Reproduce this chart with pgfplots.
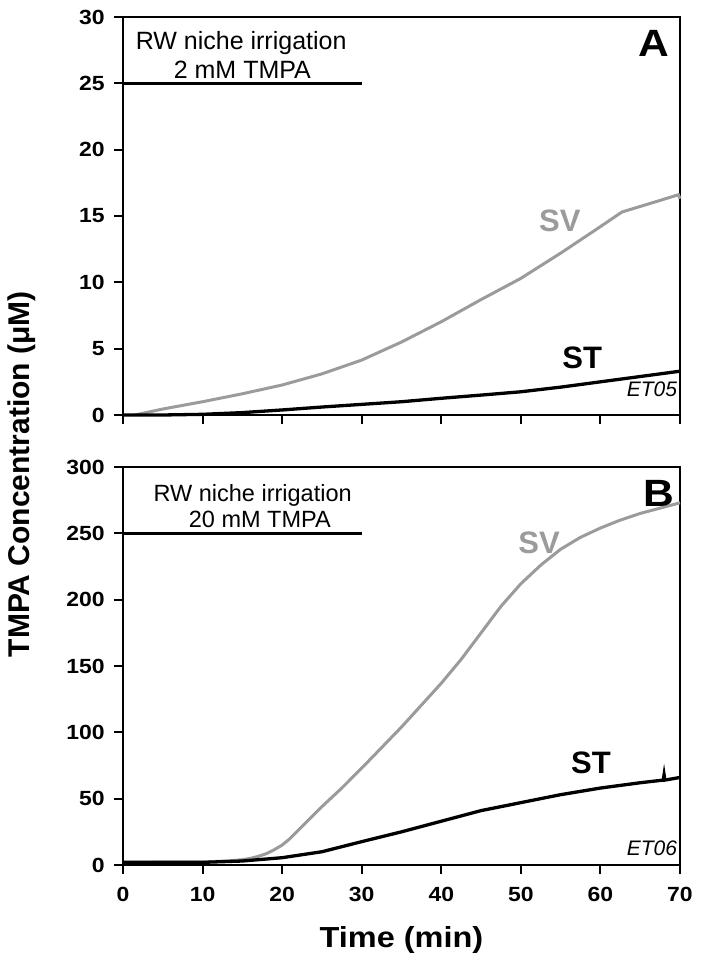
\documentclass[border=0pt]{standalone}
\usepackage{fontspec}
\setmainfont{Liberation Sans}
\newfontfamily\widefont[FakeStretch=1.12]{Liberation Sans}
\usepackage{pgfplots}
\pgfplotsset{compat=1.18}
\definecolor{svgray}{RGB}{155,155,155}
\newcommand\tickfont{\widefont\bfseries\fontsize{20.5bp}{24bp}\selectfont}
\pgfplotsset{panel/.style={
  scale only axis, width=557bp, height=398bp,
  xmin=0, xmax=70, xtick={0,10,...,70},
  line width=2bp,
  axis line style={line width=2bp},
  major tick style={line width=2bp, black},
  major tick length=9bp,
  tick align=outside,
  xtick pos=left, ytick pos=left,
  clip=false,
  /pgf/number format/assume math mode=true,
  yticklabel={\tickfont\pgfmathprintnumber{\tick}},
  yticklabel style={xshift=-5bp},
  xticklabel style={yshift=-9bp},
}}
\begin{document}
\begin{tikzpicture}
\path[use as bounding box] (0,0) rectangle (701bp,967bp);
% Panel A
\begin{axis}[panel, at={(123bp,552bp)}, anchor=south west,
  ymin=0, ymax=30, ytick={0,5,...,30}, xticklabel={\mbox{}}]
\addplot[black, line width=3bp] coordinates {(0,25) (30,25)};
\addplot[svgray, line width=3bp] coordinates {
(1.5,0) (5,0.45) (10,1.0) (15,1.6) (20,2.26) (25,3.1) (30,4.14) (35,5.5)
(40,7.03) (45,8.7) (50,10.3) (55,12.2) (60,14.2) (62.7,15.3)
(66,15.9) (69.8,16.6) (70,16.3)};
\addplot[black, line width=3.3bp] coordinates {
(0,0) (5,0) (10,0.05) (15,0.18) (20,0.38) (25,0.6) (30,0.8) (35,1.0)
(40,1.26) (45,1.5) (50,1.75) (55,2.1) (60,2.5) (65,2.9) (70,3.3)};
\node[anchor=base, font=\fontsize{25bp}{28bp}\selectfont] at (axis cs:14.85,27.56) {RW niche irrigation};
\node[anchor=base, font=\fontsize{25bp}{28bp}\selectfont] at (axis cs:15.0,25.37) {2 mM TMPA};
\node[anchor=base, font=\widefont\bfseries\fontsize{38bp}{40bp}\selectfont] at (axis cs:66.7,27.0) {A};
\node[anchor=base, text=svgray, font=\bfseries\fontsize{31bp}{34bp}\selectfont] at (axis cs:54.9,13.8) {SV};
\node[anchor=base, font=\bfseries\fontsize{31bp}{34bp}\selectfont] at (axis cs:57.7,3.54) {ST};
\node[anchor=base east, inner sep=0pt, font=\itshape\fontsize{21bp}{24bp}\selectfont] at (axis cs:69.75,1.36) {ET05};
\end{axis}
% Panel B
\begin{axis}[panel, at={(123bp,102bp)}, anchor=south west,
  ymin=0, ymax=300, ytick={0,50,...,300},
  xticklabel={\tickfont\pgfmathprintnumber{\tick}},
  xlabel={Time (min)},
  xlabel style={font=\widefont\bfseries\fontsize{29bp}{32bp}\selectfont, at={(axis description cs:0.5,-0.2085)}, anchor=base},
  ylabel={TMPA Concentration (μM)},
  ylabel style={font=\bfseries\fontsize{30bp}{32bp}\selectfont, at={(axis description cs:-0.181,0.982)}, anchor=center, rotate=0}]
\addplot[black, line width=3bp] coordinates {(0,250) (30,250)};
\addplot[svgray, line width=3bp] coordinates {
(0,2) (10,2.2) (13,3) (15,4) (16,5) (17,6.5) (18,8.5) (19,11.5) (20,15)
(21,20) (22,26) (23,32) (24,38) (25,44) (27.5,58) (30,73)
(35,104) (40,137) (42.5,155) (45,175) (47.5,195) (50,212) (52.5,226) (55,238)
(57.5,247) (60,254) (62.5,260) (65,265) (67.5,269) (70,273)};
\addplot[black, line width=3.3bp] coordinates {
(0,2) (10,2) (15,3) (20,5.5) (25,10) (30,17.6) (35,25) (40,33) (45,41)
(50,47) (55,53) (60,58) (65,62) (67.9,64) (68,68) (68.1,64) (70,66)};
\node[anchor=base, font=\fontsize{23.5bp}{26bp}\selectfont] at (axis cs:16.3,274.3) {RW niche irrigation};
\node[anchor=base, font=\fontsize{23.5bp}{26bp}\selectfont] at (axis cs:17.2,254.5) {20 mM TMPA};
\node[anchor=base, font=\widefont\bfseries\fontsize{38bp}{40bp}\selectfont] at (axis cs:67.3,270) {B};
\node[anchor=base, text=svgray, font=\bfseries\fontsize{31bp}{34bp}\selectfont] at (axis cs:52.3,235.1) {SV};
\node[anchor=base, font=\bfseries\fontsize{31bp}{34bp}\selectfont] at (axis cs:58.8,69.3) {ST};
\node[anchor=base east, inner sep=0pt, font=\itshape\fontsize{21bp}{24bp}\selectfont] at (axis cs:69.75,7.5) {ET06};
\end{axis}
\end{tikzpicture}
\end{document}
